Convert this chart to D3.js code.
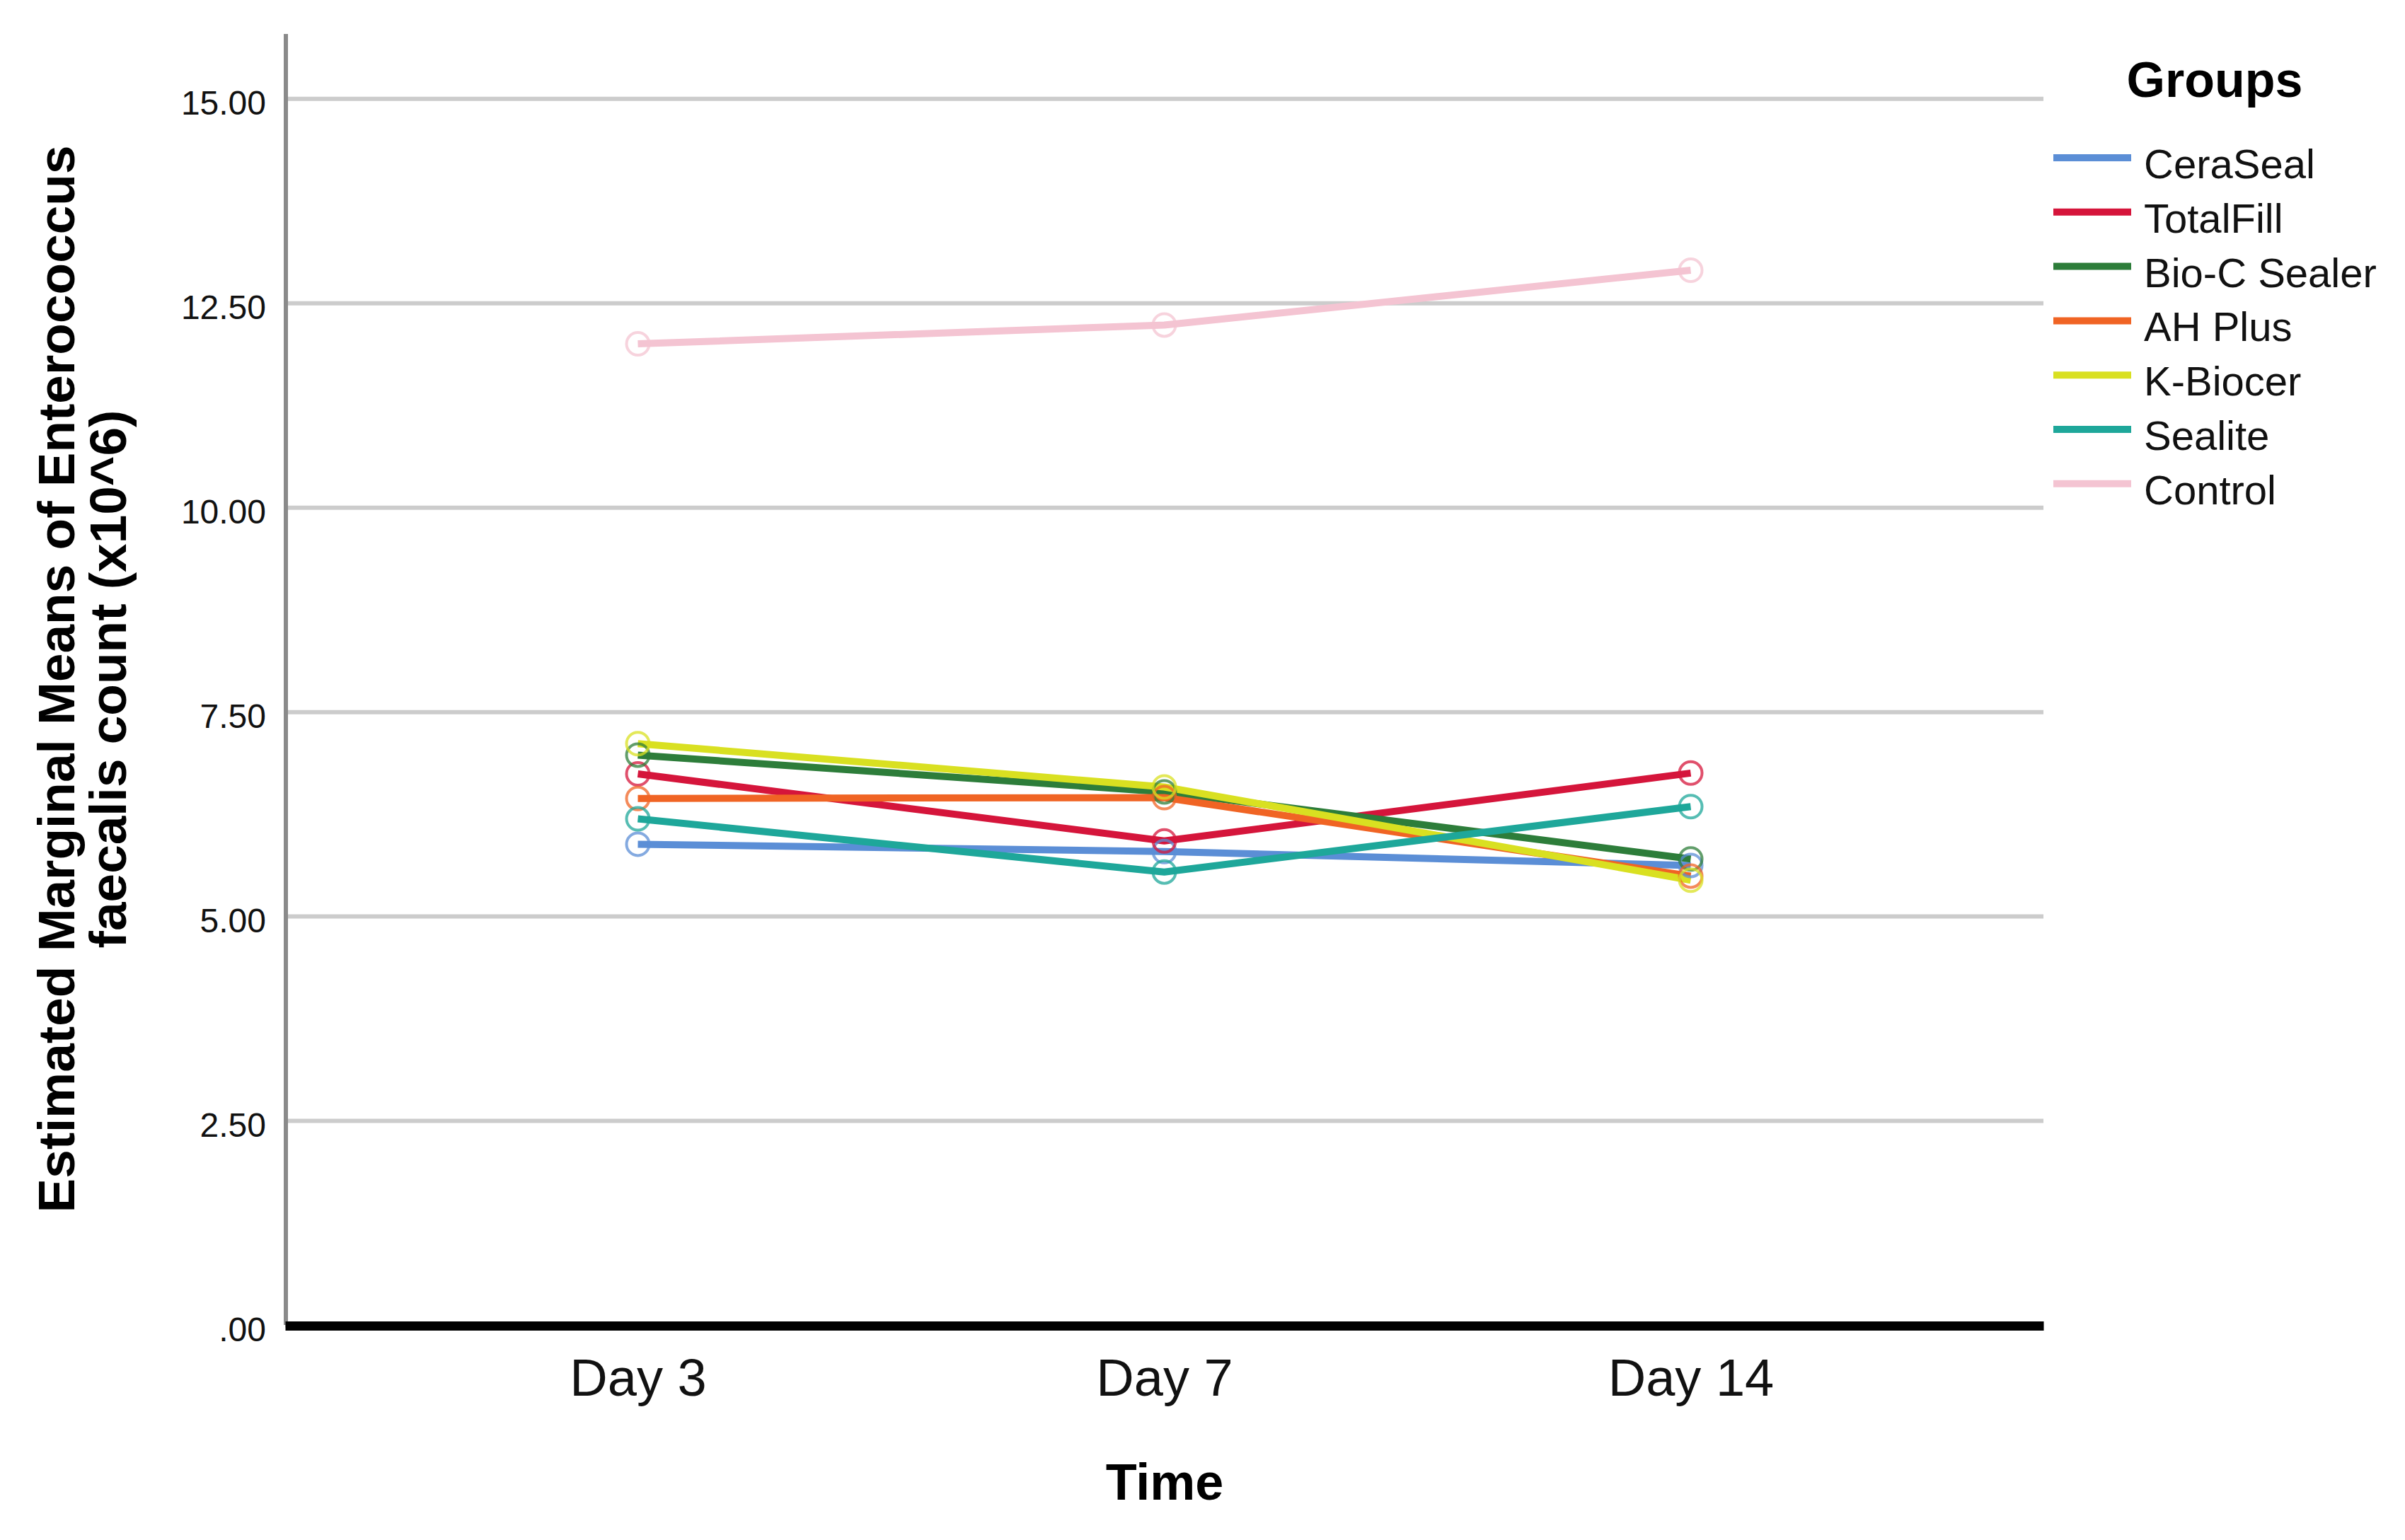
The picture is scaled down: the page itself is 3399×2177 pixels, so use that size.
<!DOCTYPE html>
<html><head><meta charset="utf-8">
<script src="https://cdn.jsdelivr.net/npm/d3@7"></script>
<style>
body{margin:0;background:#fff}
svg{display:block}
text{font-family:"Liberation Sans",Arial,Helvetica,sans-serif}
</style>
</head><body>
<svg id="chart" width="3399" height="2177"></svg>
<script>
// ---- data ----
const categories = ["Day 3", "Day 7", "Day 14"];
const groups = ["CeraSeal", "TotalFill", "Bio-C Sealer", "AH Plus", "K-Biocer", "Sealite", "Control"];
const ceraSeal   = [5.88, 5.79, 5.62];
const totalFill  = [6.74, 5.92, 6.75];
const bioC       = [6.97, 6.52, 5.70];
const ahPlus     = [6.44, 6.45, 5.49];
const kBiocer    = [7.11, 6.58, 5.44];
const sealite    = [6.19, 5.54, 6.34];
const control    = [12.00, 12.23, 12.90];
const seriesValues = [ceraSeal, totalFill, bioC, ahPlus, kBiocer, sealite, control];
const yTickValues = [0, 2.5, 5, 7.5, 10, 12.5, 15];
const yTickLabels = [".00", "2.50", "5.00", "7.50", "10.00", "12.50", "15.00"];
const xTitle = "Time";
const yTitleLines = ["Estimated Marginal Means of Enterococcus", "faecalis count (x10^6)"];
const legendTitle = "Groups";

// ---- styles ----
const colors = ["#5b8ed6", "#d5153b", "#2d7d3a", "#f06424", "#d9e021", "#1ea79a", "#f4c4d2"];

const svg = d3.select("#chart");
const plotLeft = 403, plotRight = 2888, plotTop = 48, plotBottom = 1873;

const x = d3.scalePoint().domain(categories).range([plotLeft, plotRight]).padding(0.67);
const y = d3.scaleLinear().domain([0, 15.79]).range([plotBottom, plotTop]);

// gridlines + y tick labels
const gy = svg.append("g").attr("transform", `translate(${plotLeft},0)`)
  .call(d3.axisLeft(y).tickValues(yTickValues)
    .tickSize(-(plotRight - plotLeft)).tickSizeOuter(0).tickPadding(27)
    .tickFormat((d, i) => yTickLabels[i]));
gy.select(".domain").remove();
gy.selectAll(".tick line").attr("stroke", "#cccccc").attr("stroke-width", 6);
gy.selectAll(".tick text").attr("font-size", 48).attr("fill", "#111").attr("dy", "0.47em");

// y axis line
svg.append("line").attr("x1", plotLeft + 1).attr("x2", plotLeft + 1)
  .attr("y1", plotTop).attr("y2", plotBottom)
  .attr("stroke", "#8a8a8a").attr("stroke-width", 6);

// series lines
const line = d3.line().x((d, i) => x(categories[i])).y(d => y(d));
const sg = svg.append("g");
seriesValues.forEach((vals, k) => {
  sg.append("path").datum(vals)
    .attr("d", line)
    .attr("fill", "none")
    .attr("stroke", colors[k])
    .attr("stroke-width", 10)
    .attr("stroke-linejoin", "round");
});
seriesValues.forEach((vals, k) => {
  sg.selectAll(null).data(vals).enter().append("circle")
    .attr("cx", (d, i) => x(categories[i]))
    .attr("cy", d => y(d))
    .attr("r", 16)
    .attr("fill", "none")
    .attr("stroke", colors[k])
    .attr("stroke-opacity", 0.75)
    .attr("stroke-width", 4);
});

// x axis
const gx = svg.append("g").attr("transform", `translate(0,${plotBottom + 1})`)
  .call(d3.axisBottom(x).tickSize(0).tickSizeOuter(0).tickPadding(46));
gx.select(".domain").attr("stroke", "#000").attr("stroke-width", 13);
gx.selectAll(".tick text").attr("font-size", 74).attr("fill", "#111");

// axis titles
svg.append("text").attr("x", 1646).attr("y", 2120)
  .attr("text-anchor", "middle").attr("font-size", 72).attr("font-weight", "bold")
  .text(xTitle);

const yt = svg.append("g").attr("transform", "translate(0,960) rotate(-90)");
yt.selectAll("text").data(yTitleLines).enter().append("text")
  .attr("x", 0).attr("y", (d, i) => 105 + i * 73)
  .attr("text-anchor", "middle").attr("font-size", 73).attr("font-weight", "bold")
  .text(d => d);

// legend
svg.append("text").attr("x", 3130).attr("y", 137)
  .attr("text-anchor", "middle").attr("font-size", 70).attr("font-weight", "bold")
  .text(legendTitle);
const lg = svg.append("g");
groups.forEach((g, i) => {
  const ry = 223 + i * 76.8;
  lg.append("line").attr("x1", 2902).attr("x2", 3012).attr("y1", ry).attr("y2", ry)
    .attr("stroke", colors[i]).attr("stroke-width", 10);
  lg.append("text").attr("x", 3030).attr("y", ry + 29)
    .attr("font-size", 58).attr("fill", "#111").text(g);
});
</script>
</body></html>
